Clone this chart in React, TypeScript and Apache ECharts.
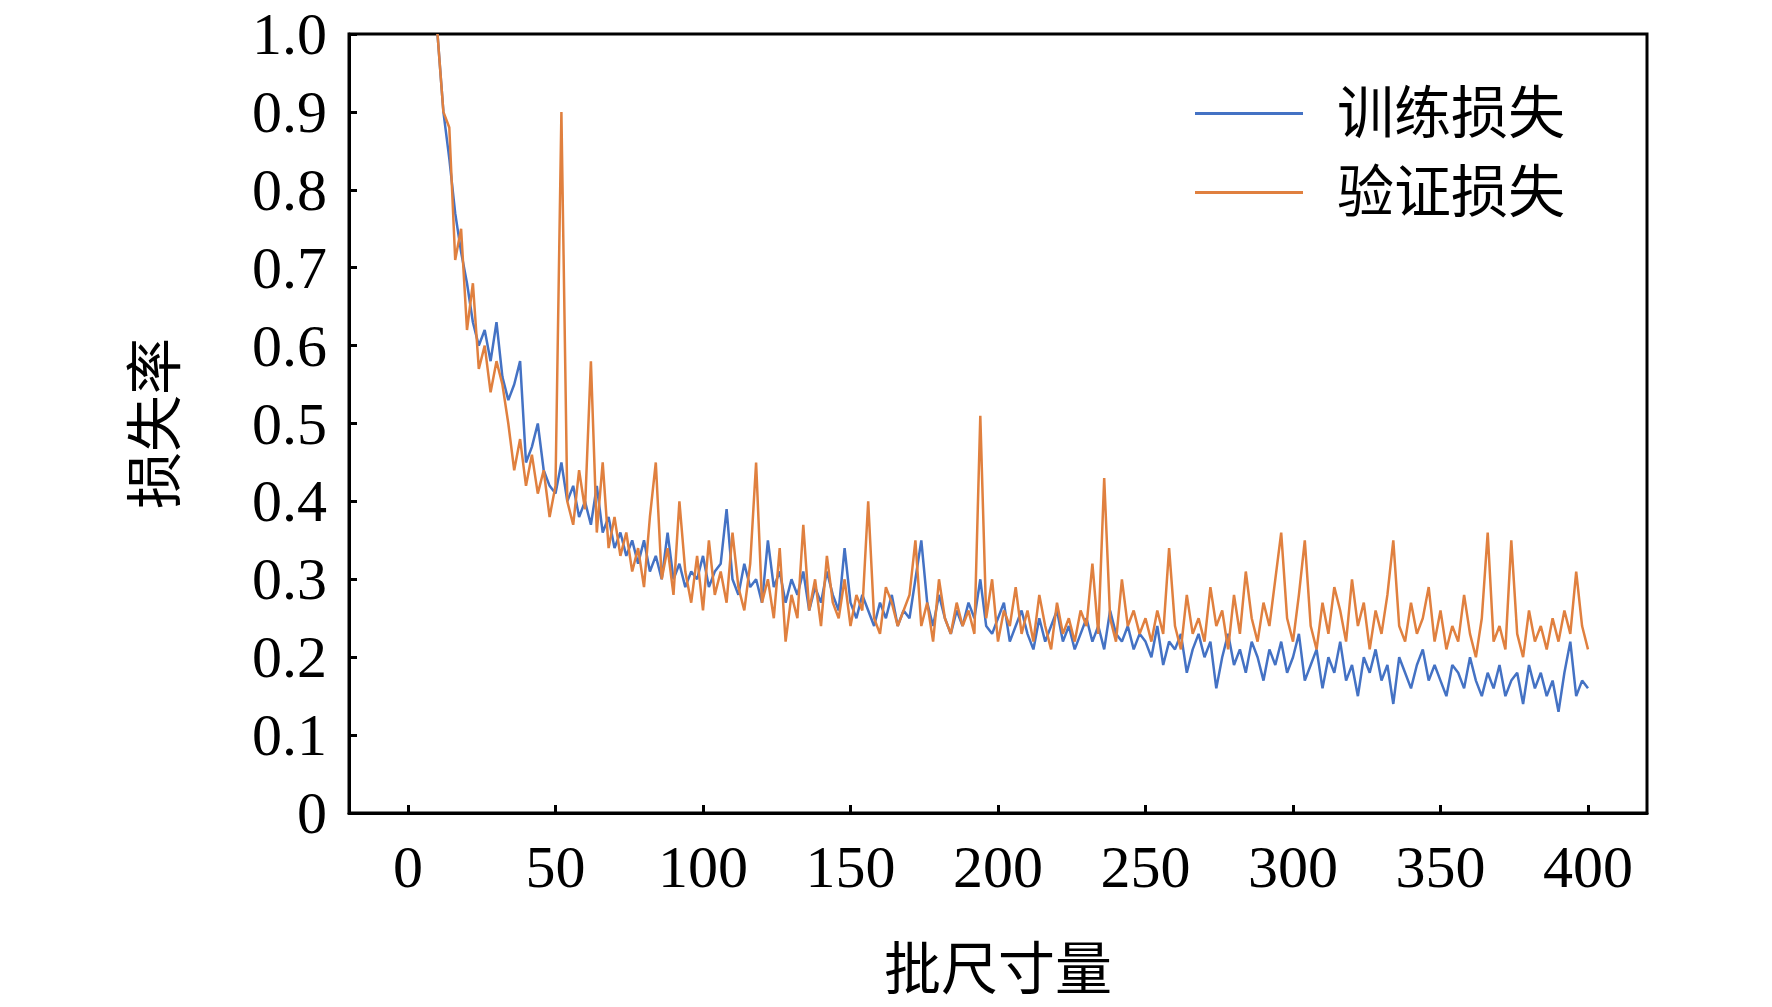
import { useEffect, useRef } from "react";
import * as echarts from "echarts";

const xStart = 10;
const xStep = 2;
const xTicks = [0, 50, 100, 150, 200, 250, 300, 350, 400];
const yTicks = [0, 0.1, 0.2, 0.3, 0.4, 0.5, 0.6, 0.7, 0.8, 0.9, 1.0];
const seriesNames = ["训练损失", "验证损失"];

const trainLoss = [
  1.0, 0.9, 0.84, 0.77, 0.72, 0.68, 0.63, 0.6, 0.62, 0.58, 0.63, 0.56, 0.53, 0.55, 0.58, 0.45, 0.47, 0.5, 0.44, 0.42,
  0.41, 0.45, 0.4, 0.42, 0.38, 0.4, 0.37, 0.42, 0.36, 0.38, 0.34, 0.36, 0.33, 0.35, 0.32, 0.35, 0.31, 0.33, 0.3, 0.36, 0.3, 0.32, 0.29, 0.31, 0.3,
  0.33, 0.29, 0.31, 0.32, 0.39, 0.3, 0.28, 0.32, 0.29, 0.3, 0.27, 0.35, 0.29, 0.31, 0.27, 0.3, 0.28, 0.31, 0.26, 0.29, 0.27, 0.31, 0.28, 0.26, 0.34,
  0.27, 0.25, 0.28, 0.26, 0.24, 0.27, 0.25, 0.28, 0.24, 0.26, 0.25, 0.3, 0.35, 0.27, 0.24, 0.28, 0.25, 0.23, 0.26, 0.24, 0.27, 0.25, 0.3, 0.24, 0.23,
  0.25, 0.27, 0.22, 0.24, 0.26, 0.23, 0.21, 0.25, 0.22, 0.24, 0.26, 0.22, 0.24, 0.21, 0.23, 0.25, 0.22, 0.24, 0.21, 0.26, 0.23, 0.22, 0.24, 0.21, 0.23,
  0.22, 0.2, 0.24, 0.19, 0.22, 0.21, 0.23, 0.18, 0.21, 0.23, 0.2, 0.22, 0.16, 0.2, 0.23, 0.19, 0.21, 0.18, 0.22, 0.2, 0.17, 0.21, 0.19, 0.22, 0.18,
  0.2, 0.23, 0.17, 0.19, 0.21, 0.16, 0.2, 0.18, 0.22, 0.17, 0.19, 0.15, 0.2, 0.18, 0.21, 0.17, 0.19, 0.14, 0.2, 0.18, 0.16, 0.19, 0.21, 0.17, 0.19,
  0.17, 0.15, 0.19, 0.18, 0.16, 0.2, 0.17, 0.15, 0.18, 0.16, 0.19, 0.15, 0.17, 0.18, 0.14, 0.19, 0.16, 0.18, 0.15, 0.17, 0.13, 0.18, 0.22, 0.15, 0.17,
  0.16,
];

const valLoss = [
  1.0, 0.9, 0.88, 0.71, 0.75, 0.62, 0.68, 0.57, 0.6, 0.54, 0.58, 0.55, 0.5, 0.44, 0.48, 0.42, 0.46, 0.41, 0.44, 0.38,
  0.42, 0.9, 0.4, 0.37, 0.44, 0.39, 0.58, 0.36, 0.45, 0.34, 0.38, 0.33, 0.36, 0.31, 0.34, 0.29, 0.38, 0.45, 0.3, 0.34, 0.28, 0.4, 0.31, 0.27, 0.33,
  0.26, 0.35, 0.28, 0.31, 0.27, 0.36, 0.29, 0.26, 0.32, 0.45, 0.27, 0.3, 0.25, 0.34, 0.22, 0.28, 0.25, 0.37, 0.26, 0.3, 0.24, 0.33, 0.27, 0.25, 0.3,
  0.24, 0.28, 0.26, 0.4, 0.25, 0.23, 0.29, 0.27, 0.24, 0.26, 0.28, 0.35, 0.24, 0.27, 0.22, 0.3, 0.25, 0.23, 0.27, 0.24, 0.26, 0.23, 0.51, 0.25, 0.3,
  0.22, 0.26, 0.24, 0.29, 0.23, 0.26, 0.22, 0.28, 0.24, 0.21, 0.27, 0.23, 0.25, 0.22, 0.26, 0.24, 0.32, 0.23, 0.43, 0.25, 0.22, 0.3, 0.24, 0.26, 0.23,
  0.25, 0.22, 0.26, 0.23, 0.34, 0.24, 0.21, 0.28, 0.23, 0.25, 0.22, 0.29, 0.24, 0.26, 0.21, 0.28, 0.23, 0.31, 0.25, 0.22, 0.27, 0.24, 0.3, 0.36, 0.25,
  0.22, 0.28, 0.35, 0.24, 0.21, 0.27, 0.23, 0.29, 0.26, 0.22, 0.3, 0.24, 0.27, 0.21, 0.26, 0.23, 0.28, 0.35, 0.24, 0.22, 0.27, 0.23, 0.25, 0.29, 0.22,
  0.26, 0.21, 0.24, 0.22, 0.28, 0.23, 0.2, 0.25, 0.36, 0.22, 0.24, 0.21, 0.35, 0.23, 0.2, 0.26, 0.22, 0.24, 0.21, 0.25, 0.22, 0.26, 0.23, 0.31, 0.24,
  0.21,
];

const toPairs = (vals: number[]) => vals.map((v, i) => [xStart + i * xStep, v]);
const font = "'Liberation Serif', 'Noto Sans CJK SC', serif";

function App() {
  const ref = useRef<HTMLDivElement>(null);
  useEffect(() => {
    document.body.style.margin = "0";
    const chart = echarts.init(ref.current!, null, { renderer: "svg" });
    chart.setOption({
      animation: false,
      textStyle: { fontFamily: font, color: "#000" },
      grid: { left: 349, top: 34, width: 1298, height: 779, show: true, borderColor: "#000", borderWidth: 3 },
      legend: {
        left: 1190,
        top: 80,
        orient: "vertical",
        icon: "rect",
        itemWidth: 108,
        itemHeight: 3,
        itemGap: 22,
        data: seriesNames,
        textStyle: { fontFamily: font, fontSize: 57, color: "#000", padding: [0, 0, 0, 29] },
      },
      xAxis: {
        type: "value",
        min: -20,
        max: 420,
        name: "批尺寸量",
        nameLocation: "middle",
        nameGap: 128,
        nameTextStyle: { fontFamily: font, fontSize: 57, color: "#000" },
        axisLine: { onZero: false, lineStyle: { color: "#000", width: 3 } },
        axisTick: { inside: true, length: 8, customValues: xTicks, lineStyle: { color: "#000", width: 3 } },
        axisLabel: { fontSize: 60, color: "#000", margin: 24, customValues: xTicks },
        splitLine: { show: false },
      },
      yAxis: {
        type: "value",
        min: yTicks[0],
        max: yTicks[yTicks.length - 1],
        interval: 0.1,
        name: "损失率",
        nameLocation: "middle",
        nameGap: 165,
        nameTextStyle: { fontFamily: font, fontSize: 57, color: "#000" },
        axisLine: { onZero: false, lineStyle: { color: "#000", width: 3 } },
        axisTick: { inside: true, length: 8, lineStyle: { color: "#000", width: 3 } },
        axisLabel: {
          fontSize: 60,
          color: "#000",
          margin: 22,
          formatter: (v: number) => (v === 0 ? "0" : v.toFixed(1)),
        },
        splitLine: { show: false },
      },
      series: [
        {
          name: seriesNames[0],
          type: "line",
          data: toPairs(trainLoss),
          symbol: "none",
          itemStyle: { color: "#4472C4" },
          lineStyle: { color: "#4472C4", width: 2.5 },
        },
        {
          name: seriesNames[1],
          type: "line",
          data: toPairs(valLoss),
          symbol: "none",
          itemStyle: { color: "#E0803F" },
          lineStyle: { color: "#E0803F", width: 2.5 },
        },
      ],
    });
    return () => chart.dispose();
  }, []);
  return <div ref={ref} style={{ width: 1772, height: 1007 }} />;
}

export default App;
